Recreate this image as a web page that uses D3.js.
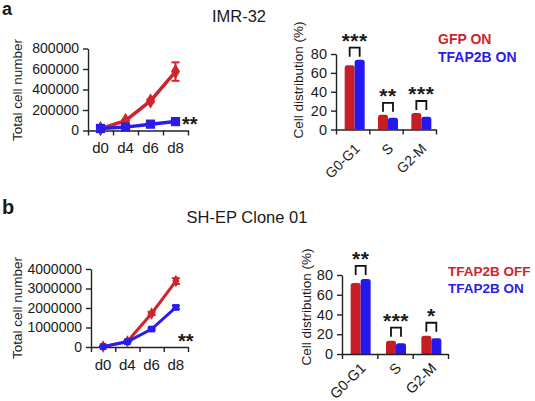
<!DOCTYPE html>
<html><head><meta charset="utf-8">
<script src="https://cdn.jsdelivr.net/npm/d3@7"></script>
<style>
body{margin:0;background:#fff;}
svg text{font-family:"Liberation Sans",Arial,sans-serif;fill:#1a1a1a;}
</style></head><body>
<svg id="c" width="535" height="401"></svg>
<script>
// ---------- data ----------
const days = ["d0","d4","d6","d8"];
const phases = ["G0-G1","S","G2-M"];
const imrGfp = [18000, 97000, 288000, 575000];
const imrGfpErr = [4000, 8000, 15000, 90000];
const imrTfap = [20000, 33000, 62000, 87000];
const imrTfapErr = [4000, 5000, 8000, 10000];
const shepOff = [20000, 280000, 1720000, 3380000];
const shepOffErr = [10000, 30000, 80000, 150000];
const shepOn = [20000, 270000, 920000, 2030000];
const shepOnErr = [10000, 30000, 60000, 90000];
const imrBarGfp = [68, 15.5, 17.5];
const imrBarTfap = [74, 12.5, 13.5];
const imrSig = ["***","**","***"];
const shepBarOff = [72, 13.5, 18.5];
const shepBarOn = [76, 11, 16];
const shepSig = ["**","***","*"];
const lineTicksA = [0,200000,400000,600000,800000];
const lineTicksB = [0,1000000,2000000,3000000,4000000];
const barTicks = [0,20,40,60,80];

const RED = "#d0232b", BLUE = "#2a1de8";
const RED_BAR = "#c91d25", BLUE_BAR = "#2418ef";
const AX = "#222";
const svg = d3.select("#c");

function styleAxis(g){
  g.selectAll("path,line").attr("stroke",AX).attr("stroke-width",1.4);
  g.selectAll("text").attr("fill","#1a1a1a").style("font-family",'"Liberation Sans",Arial,sans-serif');
}

function lineChart(o){
  const g = svg.append("g");
  const xb = d3.scaleBand().domain(days).range([o.x0,o.x1]);
  const xl = d3.scaleLinear().domain([0,days.length]).range([o.x0,o.x1]);
  const y = d3.scaleLinear().domain([0,o.max]).range([o.yb,o.yt]);
  const ya = g.append("g").attr("transform",`translate(${o.x0},0)`)
    .call(d3.axisLeft(y).tickValues(o.ticks).tickFormat(d3.format("d")).tickSize(5).tickSizeOuter(0).tickPadding(4));
  ya.selectAll("text").style("font-size","14px");
  styleAxis(ya);
  const xa = g.append("g").attr("transform",`translate(0,${o.yb})`)
    .call(d3.axisBottom(xl).tickValues(d3.range(days.length+1)).tickFormat("").tickSize(5).tickSizeOuter(0));
  styleAxis(xa);
  const xa2 = g.append("g").attr("transform",`translate(0,${o.yb})`)
    .call(d3.axisBottom(xb).tickSize(0).tickPadding(12));
  xa2.select(".domain").remove();
  xa2.selectAll("text").style("font-size","15px");
  styleAxis(xa2);
  o.series.forEach(s=>{
    const pts = s.vals.map((v,i)=>({x:xb(days[i])+xb.bandwidth()/2, y:y(v), e:s.err[i], v}));
    g.append("path").attr("d",d3.line().x(d=>d.x).y(d=>d.y)(pts))
      .attr("fill","none").attr("stroke",s.color).attr("stroke-width",s.lw);
    pts.forEach(p=>{
      const t=y(p.v+p.e), b=y(p.v-p.e);
      g.append("line").attr("x1",p.x).attr("x2",p.x).attr("y1",t).attr("y2",b).attr("stroke",s.color).attr("stroke-width",2);
      [t,b].forEach(yy=>g.append("line").attr("x1",p.x-4).attr("x2",p.x+4).attr("y1",yy).attr("y2",yy).attr("stroke",s.color).attr("stroke-width",2));
    });
    const sym = d3.symbol().type(s.shape==="square"?d3.symbolSquare:d3.symbolDiamond).size(s.size);
    g.selectAll(null).data(pts).enter().append("path").attr("d",sym)
      .attr("transform",d=>`translate(${d.x},${d.y})`).attr("fill",s.color);
  });
  g.append("text").attr("x",o.sigX).attr("y",o.sigY).text("**")
    .style("font-size","20px").style("font-weight","bold");
  g.append("text").attr("transform",`translate(${o.labX},${o.labY}) rotate(-90)`)
    .attr("text-anchor","middle").text("Total  cell  number").style("font-size","13.5px");
}

function barChart(o){
  const g = svg.append("g");
  const xb = d3.scaleBand().domain(phases).range([o.x0,o.x1]);
  const xl = d3.scaleLinear().domain([0,phases.length]).range([o.x0,o.x1]);
  const y = d3.scaleLinear().domain([0,80]).range([o.yb,o.yt]);
  const bw = 10;
  phases.forEach((p,i)=>{
    const cx = xb(p)+xb.bandwidth()/2 + o.shift;
    [[o.a[i],RED_BAR,cx-bw],[o.b[i],BLUE_BAR,cx]].forEach(([v,c,xx])=>{
      const top=y(v), r=2.5;
      g.append("path").attr("fill",c)
        .attr("d",`M${xx},${o.yb}V${top+r}Q${xx},${top} ${xx+r},${top}H${xx+bw-r}Q${xx+bw},${top} ${xx+bw},${top+r}V${o.yb}Z`);
    });
    const mt = Math.min(y(o.a[i]),y(o.b[i]));
    const by = mt - o.bh, ly = mt - o.lg;
    g.append("path").attr("d",`M${cx-bw/2},${ly}V${by}H${cx+bw/2}V${ly}`)
      .attr("fill","none").attr("stroke","#111").attr("stroke-width",1.8);
    g.append("text").attr("x",cx).attr("y",by+0.5).attr("text-anchor","middle")
      .text(o.sig[i]).style("font-size","21px").style("font-weight","bold").attr("letter-spacing","0.5px");
  });
  const ya = g.append("g").attr("transform",`translate(${o.x0},0)`)
    .call(d3.axisLeft(y).tickValues(barTicks).tickSize(5).tickSizeOuter(0).tickPadding(4));
  ya.selectAll("text").style("font-size","14.5px");
  styleAxis(ya);
  const xa = g.append("g").attr("transform",`translate(0,${o.yb})`)
    .call(d3.axisBottom(xl).tickValues(d3.range(phases.length+1)).tickFormat("").tickSize(5).tickSizeOuter(0));
  styleAxis(xa);
  const xa2 = g.append("g").attr("transform",`translate(0,${o.yb})`)
    .call(d3.axisBottom(xb).tickSize(0));
  xa2.select(".domain").remove();
  xa2.selectAll("text").attr("y",0).attr("dy",0).attr("text-anchor","end")
    .attr("transform",o.xlT).style("font-size",o.xlFs);
  styleAxis(xa2);
  g.append("text").attr("transform",`translate(${o.labX},${o.labY}) rotate(-90)`)
    .attr("text-anchor","middle").text("Cell  distribution  (%)").style("font-size","13.5px");
  o.legend.forEach((t,i)=>{
    g.append("text").attr("x",o.legX).attr("y",o.legY+i*o.legDy).text(t)
      .attr("fill",i===0?RED:BLUE).style("fill",i===0?RED:BLUE)
      .style("font-size",o.legFs).style("font-weight","bold");
  });
}

svg.append("text").attr("x",2).attr("y",15).text("a").style("font-size","18px").style("font-weight","bold");
svg.append("text").attr("x",2).attr("y",214).text("b").style("font-size","20px").style("font-weight","bold");
svg.append("text").attr("x",239).attr("y",22).attr("text-anchor","middle").text("IMR-32").style("font-size","16.5px");
svg.append("text").attr("x",247).attr("y",223).attr("text-anchor","middle").text("SH-EP Clone 01").style("font-size","16.5px");

lineChart({x0:88,x1:188,yb:130.5,yt:48.5,max:800000,ticks:lineTicksA,
  series:[{vals:imrGfp,err:imrGfpErr,color:RED,shape:"diamond",size:70,lw:3.5},
          {vals:imrTfap,err:imrTfapErr,color:BLUE,shape:"square",size:85,lw:3.5}],
  sigX:182,sigY:131,labX:22,labY:90});
lineChart({x0:91,x1:188,yb:347,yt:269,max:4000000,ticks:lineTicksB,
  series:[{vals:shepOff,err:shepOffErr,color:RED,shape:"diamond",size:45,lw:3},
          {vals:shepOn,err:shepOnErr,color:BLUE,shape:"square",size:45,lw:3}],
  sigX:178,sigY:348,labX:22,labY:308});

barChart({x0:336,x1:436,yb:129.5,yt:54,a:imrBarGfp,b:imrBarTfap,sig:imrSig,shift:2,bh:12,lg:3,
  xlT:"translate(8,20) rotate(-45)",xlFs:"14px",
  labX:303,labY:80,legend:["GFP  ON","TFAP2B  ON"],legX:438,legY:43.5,legDy:18,legFs:"14px"});
barChart({x0:342,x1:448,yb:354,yt:275,a:shepBarOff,b:shepBarOn,sig:shepSig,shift:1,bh:13,lg:4,
  xlT:"translate(7,15) rotate(-45)",xlFs:"14.5px",
  labX:311,labY:307,legend:["TFAP2B  OFF","TFAP2B  ON"],legX:448,legY:276,legDy:17,legFs:"13.5px"});
</script>
</body></html>
